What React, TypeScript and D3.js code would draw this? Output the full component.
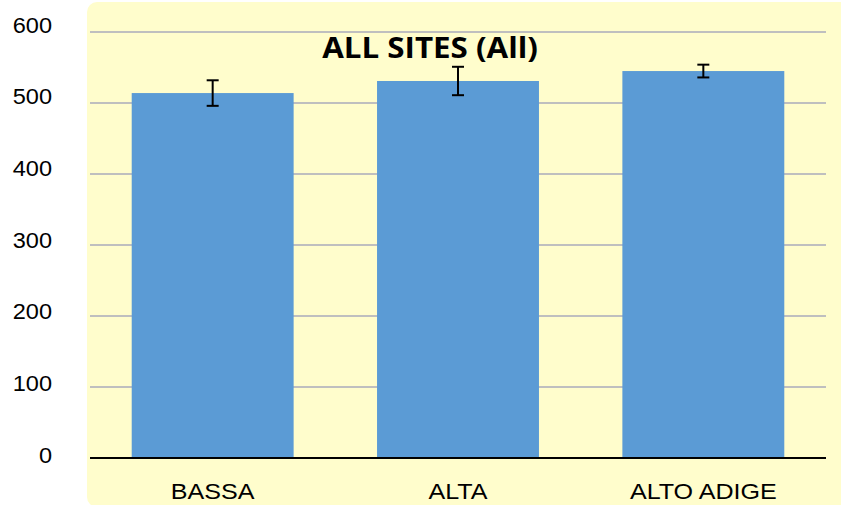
import { max, scaleBand, scaleLinear, select } from "d3";
import React, { useEffect, useRef } from "react";

const categories = ["BASSA", "ALTA", "ALTO ADIGE"];
const means = [514, 531, 545];
const errors = [18, 20, 9];
const yTicks = [0, 100, 200, 300, 400, 500, 600];
const title = "ALL SITES (All)";

const W = 841;
const H = 505;

function BarChart() {
  const svgRef = useRef<SVGSVGElement>(null);

  useEffect(() => {
    const svg = select(svgRef.current);
    svg.selectAll("*").remove();

    const left = 90;
    const right = 826;
    const top = 32;
    const bottom = 458;

    const xScale = scaleBand<string>()
      .domain(categories)
      .range([left, right])
      .paddingInner(0.34)
      .paddingOuter(0.17);

    const yScale = scaleLinear()
      .domain([0, max(yTicks) as number])
      .range([bottom, top]);

    // tick labels sit a little above their gridlines
    const labelScale = scaleLinear()
      .domain([0, max(yTicks) as number])
      .range([455, 25]);

    // plot background
    svg
      .append("rect")
      .attr("x", 87)
      .attr("y", 2)
      .attr("width", W - 87 + 12)
      .attr("height", H)
      .attr("rx", 10)
      .attr("fill", "#fffdcc");

    // gridlines
    svg
      .append("g")
      .selectAll("line")
      .data(yTicks.filter((t) => t > 0))
      .join("line")
      .attr("x1", left)
      .attr("x2", right)
      .attr("y1", (d) => yScale(d))
      .attr("y2", (d) => yScale(d))
      .attr("stroke", "#bfbfbf")
      .attr("stroke-width", 2);

    // y labels
    svg
      .append("g")
      .selectAll("text")
      .data(yTicks)
      .join("text")
      .attr("transform", (d) => `translate(52,${labelScale(d)}) scale(1.07,1)`)
      .attr("dy", "0.35em")
      .attr("text-anchor", "end")
      .attr("font-family", "Liberation Sans, Arial, sans-serif")
      .attr("font-size", 22)
      .attr("fill", "#000")
      .text((d) => d);

    // bars
    svg
      .append("g")
      .selectAll("rect")
      .data(categories)
      .join("rect")
      .attr("x", (d) => xScale(d) as number)
      .attr("width", xScale.bandwidth())
      .attr("y", (_, i) => yScale(means[i]))
      .attr("height", (_, i) => bottom - yScale(means[i]))
      .attr("fill", "#5b9bd5");

    // x axis line
    svg
      .append("line")
      .attr("x1", left)
      .attr("x2", right)
      .attr("y1", bottom)
      .attr("y2", bottom)
      .attr("stroke", "#000")
      .attr("stroke-width", 2);

    // error bars
    const cx = (d: string) => (xScale(d) as number) + xScale.bandwidth() / 2;
    const eb = svg
      .append("g")
      .selectAll("g")
      .data(categories)
      .join("g")
      .attr("stroke", "#000")
      .attr("stroke-width", 2);
    eb.append("line")
      .attr("x1", cx)
      .attr("x2", cx)
      .attr("y1", (_, i) => yScale(means[i] + errors[i]))
      .attr("y2", (_, i) => yScale(means[i] - errors[i]));
    eb.append("line")
      .attr("x1", (d) => cx(d) - 6)
      .attr("x2", (d) => cx(d) + 6)
      .attr("y1", (_, i) => yScale(means[i] + errors[i]))
      .attr("y2", (_, i) => yScale(means[i] + errors[i]));
    eb.append("line")
      .attr("x1", (d) => cx(d) - 6)
      .attr("x2", (d) => cx(d) + 6)
      .attr("y1", (_, i) => yScale(means[i] - errors[i]))
      .attr("y2", (_, i) => yScale(means[i] - errors[i]));

    // x labels
    svg
      .append("g")
      .selectAll("text")
      .data(categories)
      .join("text")
      .attr("transform", (d) => `translate(${cx(d)},499) scale(1.14,1)`)
      .attr("text-anchor", "middle")
      .attr("font-family", "Liberation Sans, Arial, sans-serif")
      .attr("font-size", 22)
      .attr("fill", "#000")
      .text((d) => d);

    // title
    svg
      .append("text")
      .attr("transform", "translate(430,58) scale(1.08,1)")
      .attr("text-anchor", "middle")
      .attr("font-family", "Open Sans, sans-serif")
      .attr("font-weight", "bold")
      .attr("font-size", 29)
      .attr("fill", "#000")
      .text(title);
  }, []);

  return (
    <svg
      ref={svgRef}
      width={W}
      height={H}
      style={{ position: "absolute", left: 0, top: 0, background: "#fff" }}
    />
  );
}

export default function App() {
  return <BarChart />;
}
